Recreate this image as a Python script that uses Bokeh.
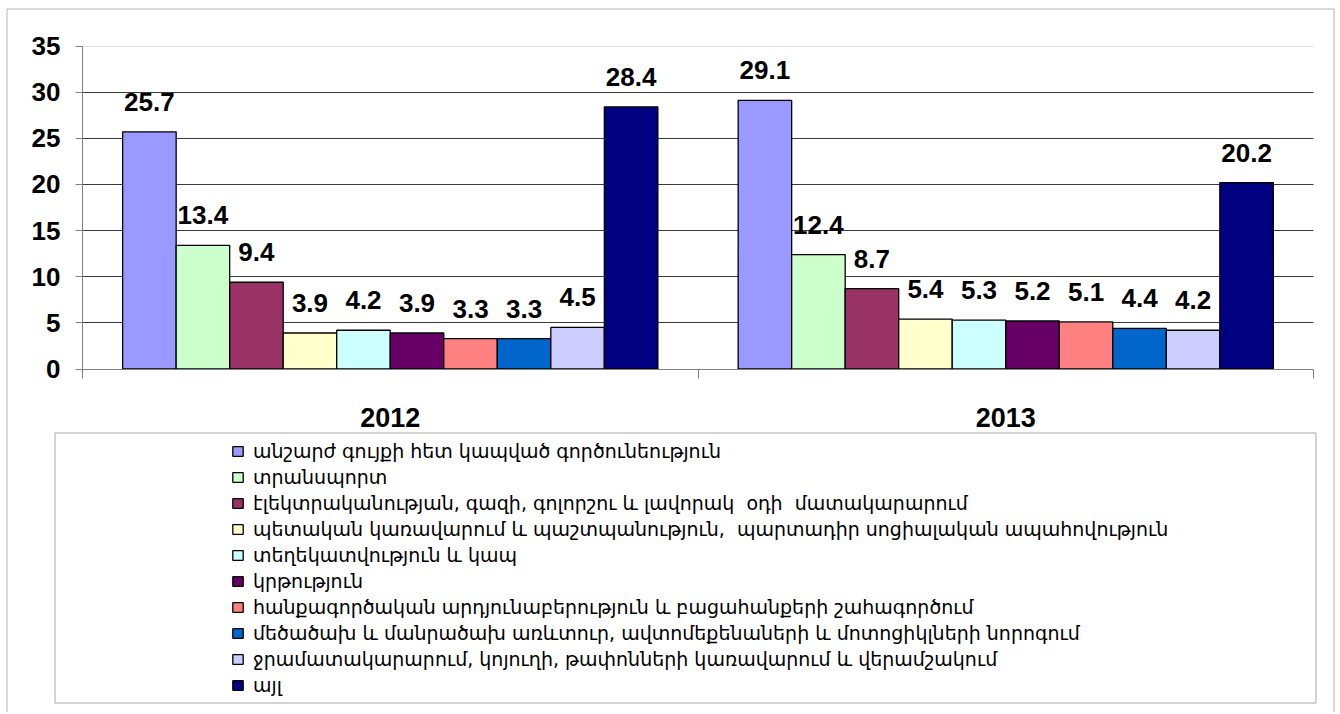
from bokeh.plotting import figure
from bokeh.models import Range1d, FixedTicker, Grid, BoxAnnotation, Legend, LegendItem
from bokeh.core.properties import value
from bokeh.embed import file_html
from bokeh.resources import INLINE

years = ["2012", "2013"]
categories = [
    "անշարժ գույքի հետ կապված գործունեություն",
    "տրանսպորտ",
    "էլեկտրականության, գազի, գոլորշու և լավորակ  օդի  մատակարարում",
    "պետական կառավարում և պաշտպանություն,  պարտադիր սոցիալական ապահովություն",
    "տեղեկատվություն և կապ",
    "կրթություն",
    "հանքագործական արդյունաբերություն և բացահանքերի շահագործում",
    "մեծածախ և մանրածախ առևտուր, ավտոմեքենաների և մոտոցիկլների նորոգում",
    "ջրամատակարարում, կոյուղի, թափոնների կառավարում և վերամշակում",
    "այլ",
]
colors = ["#9999FF", "#CCFFCC", "#993366", "#FFFFCC", "#CCFFFF",
          "#660066", "#FF8080", "#0066CC", "#CCCCFF", "#000080"]
values_2012 = [25.7, 13.4, 9.4, 3.9, 4.2, 3.9, 3.3, 3.3, 4.5, 28.4]
values_2013 = [29.1, 12.4, 8.7, 5.4, 5.3, 5.2, 5.1, 4.4, 4.2, 20.2]
y_ticks = [0, 5, 10, 15, 20, 25, 30, 35]

series = [values_2012, values_2013]
N = len(categories)
G = len(years)
slots = N + 1.5
bw = 1.0 / slots

# canvas geometry (pixels) of the plotting area inside the full-canvas frame
W, H = 1336, 712
AX_L, AX_R = 82.0, 1313.0      # x = 0 .. G
AX_T, AX_B = 45.5, 368.5       # y = 35 .. 0
ymax = y_ticks[-1]
kx = (AX_R - AX_L) / G
ky = (AX_B - AX_T) / ymax

p = figure(width=W, height=H, output_backend="svg", toolbar_location=None,
           x_range=Range1d(-AX_L / kx, (W - AX_L) / kx),
           y_range=Range1d(-(H - AX_B) / ky, ymax + AX_T / ky),
           min_border=0)
p.outline_line_color = None
p.background_fill_color = "white"
p.border_fill_color = "white"

# grid
p.xgrid.visible = False
p.ygrid.ticker = FixedTicker(ticks=y_ticks[1:-1])
p.ygrid.grid_line_color = "#3a3a3a"
top_grid = Grid(dimension=1, ticker=FixedTicker(ticks=y_ticks[-1:]),
                grid_line_color="#e4e4e4")
p.add_layout(top_grid)
if "cross_bounds" in Grid.properties():
    p.ygrid.cross_bounds = (0, G)
    top_grid.cross_bounds = (0, G)
else:
    p.ygrid.visible = False
    top_grid.visible = False
    p.segment(x0=0, x1=G, y0=y_ticks[1:-1], y1=y_ticks[1:-1],
              line_color="#3a3a3a", line_width=1, level="underlay")
    p.segment(x0=0, x1=G, y0=y_ticks[-1:], y1=y_ticks[-1:],
              line_color="#e4e4e4", line_width=1, level="underlay")

items = []
lab_x, lab_y, lab_t = [], [], []
for i, cat in enumerate(categories):
    xs = [g + (0.75 + i + 0.5) * bw for g in range(G)]
    tops = [s[i] for s in series]
    r = p.vbar(x=xs, top=tops, bottom=0, width=bw, fill_color=colors[i],
               line_color="black", line_width=1.3)
    items.append(LegendItem(label=cat, renderers=[r]))
    lab_x += xs
    lab_y += tops
    lab_t += [f"{v:.1f}" for v in tops]

p.text(x=lab_x, y=lab_y, text=lab_t, y_offset=-30, text_align="center",
       text_baseline="middle", text_font=value("Liberation Sans"),
       text_font_style="bold", text_font_size="26px", text_color="black")

# axes (drawn at fixed locations inside the full-canvas frame)
xa = p.xaxis[0]
xa.fixed_location = 0
xa.bounds = (0, G)
xa.ticker = FixedTicker(ticks=[g + 0.5 for g in range(G)],
                        minor_ticks=list(range(G + 1)))
xa.major_label_overrides = {g + 0.5: y for g, y in enumerate(years)}
xa.major_tick_out = 0
xa.major_tick_in = 0
xa.minor_tick_out = 9
xa.minor_tick_in = 0
xa.minor_tick_line_color = "#808080"
xa.axis_line_color = "#808080"
xa.major_label_standoff = 30
xa.major_label_text_font = "Liberation Sans"
xa.major_label_text_font_style = "bold"
xa.major_label_text_font_size = "27px"
xa.major_label_text_color = "black"

ya = p.yaxis[0]
ya.fixed_location = 0
ya.bounds = (0, ymax)
ya.ticker = FixedTicker(ticks=y_ticks)
ya.major_tick_out = 7
ya.major_tick_in = 0
ya.minor_tick_out = 0
ya.minor_tick_in = 0
ya.major_tick_line_color = "#808080"
ya.axis_line_color = "#808080"
ya.major_label_standoff = 15
ya.major_label_text_font = "Liberation Sans"
ya.major_label_text_font_style = "bold"
ya.major_label_text_font_size = "26px"
ya.major_label_text_color = "black"

legend = Legend(items=items, location=(231, H - 696), orientation="vertical",
                padding=0, margin=0, spacing=4, glyph_width=13, glyph_height=12,
                label_standoff=9, label_text_font="DejaVu Sans",
                label_text_font_size="19px", label_text_color="black",
                border_line_color=None, background_fill_alpha=0)
p.add_layout(legend)

legend_box = BoxAnnotation(left=54.5, right=1315.5, top=432.5, bottom=702.5,
                           left_units="canvas", right_units="canvas",
                           top_units="canvas", bottom_units="canvas",
                           fill_color=None, line_color="#404040", line_width=1.5)
outer_box = BoxAnnotation(left=6.5, right=1333.5, top=8.5, bottom=H + 20,
                          left_units="canvas", right_units="canvas",
                          top_units="canvas", bottom_units="canvas",
                          fill_color=None, line_color="black", line_width=1)
p.add_layout(legend_box)
p.add_layout(outer_box)

open("out.html", "w").write(file_html(p, INLINE))
